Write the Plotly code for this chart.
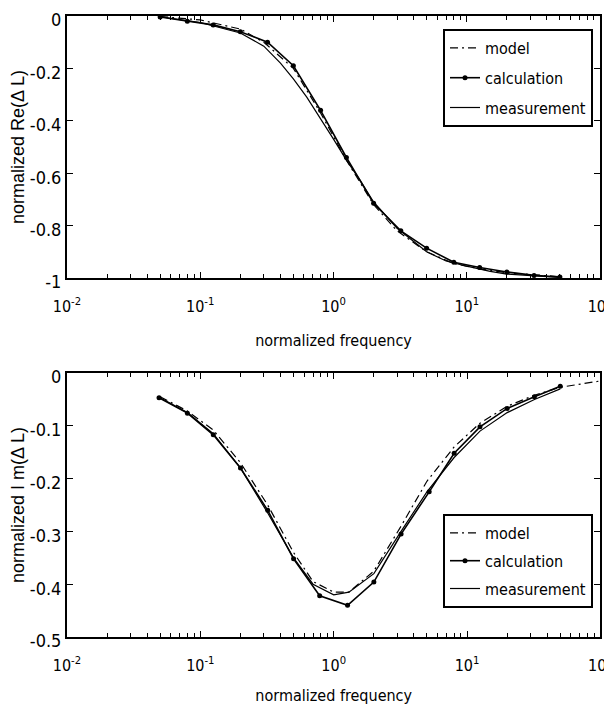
import plotly.graph_objects as go

# ---------------- data ----------------
# top panel: normalized Re(ΔL)
re_model_f = [0.05, 0.1, 0.2, 0.3, 0.5, 0.8, 1.0, 1.25, 2, 3, 5, 8, 12.5, 20, 50]
re_model_v = [-0.002, -0.015, -0.05, -0.1, -0.2, -0.37, -0.46, -0.55, -0.72, -0.82, -0.9, -0.945, -0.965, -0.98, -0.995]

re_calc_f = [0.05, 0.08, 0.125, 0.2, 0.32, 0.5, 0.8, 1.25, 2, 3.2, 5, 8, 12.5, 20, 32, 50]
re_calc_v = [-0.004, -0.02, -0.034, -0.06, -0.10, -0.19, -0.36, -0.54, -0.715, -0.82, -0.886, -0.94, -0.96, -0.977, -0.99, -0.996]

re_meas_f = [0.05, 0.1, 0.2, 0.3, 0.4, 0.5, 0.63, 0.8, 1.0, 1.25, 1.6, 2, 3, 5, 7, 10, 15, 20, 50]
re_meas_v = [-0.003, -0.025, -0.065, -0.115, -0.18, -0.24, -0.31, -0.39, -0.47, -0.55, -0.63, -0.71, -0.81, -0.9, -0.935, -0.955, -0.975, -0.985, -0.998]

# bottom panel: normalized Im(ΔL)
im_model_f = [0.05, 0.08, 0.125, 0.2, 0.32, 0.5, 0.7, 1.0, 1.3, 2, 3.2, 5, 8, 12.5, 20, 32, 50, 100]
im_model_v = [-0.045, -0.072, -0.108, -0.17, -0.25, -0.34, -0.395, -0.415, -0.415, -0.375, -0.29, -0.205, -0.14, -0.095, -0.063, -0.042, -0.027, -0.015]

im_calc_f = [0.049, 0.08, 0.125, 0.2, 0.32, 0.5, 0.785, 1.27, 2.0, 3.2, 5.2, 8, 12.5, 20, 32, 50]
im_calc_v = [-0.047, -0.076, -0.117, -0.18, -0.26, -0.352, -0.422, -0.44, -0.396, -0.305, -0.225, -0.152, -0.102, -0.067, -0.045, -0.025]

im_meas_f = [0.05, 0.08, 0.125, 0.2, 0.32, 0.5, 0.7, 1.0, 1.3, 2, 3.2, 5, 8, 12.5, 20, 32, 50]
im_meas_v = [-0.047, -0.075, -0.115, -0.18, -0.265, -0.35, -0.40, -0.42, -0.415, -0.38, -0.30, -0.225, -0.16, -0.11, -0.075, -0.05, -0.03]

x_tickvals = [0.01, 0.1, 1, 10, 100]
x_ticktext = ["10<sup>-2</sup>", "10<sup>-1</sup>", "10<sup>0</sup>", "10<sup>1</sup>", "10<sup>2</sup>"]
re_ticks = [0, -0.2, -0.4, -0.6, -0.8, -1]
re_ticktext = ["0", "-0.2", "-0.4", "-0.6", "-0.8", "-1"]
im_ticks = [0, -0.1, -0.2, -0.3, -0.4, -0.5]
im_ticktext = ["0", "-0.1", "-0.2", "-0.3", "-0.4", "-0.5"]

# ---------------- figure ----------------
NARROW = "DejaVu Sans Condensed, Liberation Sans Narrow, Arial Narrow, sans-serif"
REG = "Liberation Sans, Arial, sans-serif"
BLK = "black"
MODEL_DASH = "8px,4px,2px,4px"

minor_vals = [m * 10 ** e for e in range(-2, 2) for m in range(2, 10)]

fig = go.Figure()

def add_panel(xa, ya, legend, mf, mv, cf, cv, sf, sv):
    fig.add_trace(go.Scatter(x=mf, y=mv, mode="lines", name="model",
                             line=dict(color=BLK, width=1.2, dash=MODEL_DASH),
                             xaxis=xa, yaxis=ya, legend=legend, legendgroup=legend + "m"))
    fig.add_trace(go.Scatter(x=cf, y=cv, mode="lines+markers", name="calculation",
                             line=dict(color=BLK, width=1.6),
                             marker=dict(symbol="circle", size=5, color=BLK),
                             xaxis=xa, yaxis=ya, legend=legend, legendgroup=legend + "c"))
    fig.add_trace(go.Scatter(x=sf, y=sv, mode="lines", name="measurement",
                             line=dict(color=BLK, width=1.2),
                             xaxis=xa, yaxis=ya, legend=legend, legendgroup=legend + "s"))

add_panel("x", "y", "legend", re_model_f, re_model_v, re_calc_f, re_calc_v, re_meas_f, re_meas_v)
add_panel("x2", "y2", "legend2", im_model_f, im_model_v, im_calc_f, im_calc_v, im_meas_f, im_meas_v)

xcommon = dict(type="log", range=[-2, 2], tickmode="array", tickvals=x_tickvals,
               ticktext=x_ticktext, ticks="inside", ticklen=6, tickcolor=BLK, tickwidth=1.3,
               showline=True, linecolor=BLK, linewidth=2, mirror="allticks",
               showgrid=False, zeroline=False, ticklabeloverflow="allow", automargin=False,
               tickfont=dict(family=NARROW, size=16, color=BLK), ticklabelstandoff=13,
               minor=dict(tickmode="array", tickvals=minor_vals, ticks="inside",
                          ticklen=4, tickcolor=BLK, tickwidth=1.1, showgrid=False))
ycommon = dict(ticks="inside", ticklen=6, tickcolor=BLK, tickwidth=1.3,
               showline=True, linecolor=BLK, linewidth=2, mirror="allticks",
               showgrid=False, zeroline=False, automargin=False, ticklabeloverflow="allow",
               ticklabelshift=4,
               tickfont=dict(family=NARROW, size=18, color=BLK))

legend_common = dict(xanchor="right", yanchor="top", bgcolor="white", bordercolor=BLK,
                     borderwidth=2, font=dict(family=NARROW, size=16, color=BLK),
                     itemwidth=30)

xtitle_font = dict(family=NARROW, size=16, color=BLK)

fig.update_layout(
    width=612, height=707,
    margin=dict(l=0, r=0, t=0, b=0),
    paper_bgcolor="white", plot_bgcolor="white",
    showlegend=True,
    xaxis=dict(xcommon, domain=[0.0964, 0.9673], anchor="y",
               title=dict(text="normalized frequency", font=xtitle_font, standoff=20)),
    yaxis=dict(ycommon, domain=[0.6181, 0.9887], anchor="x", range=[-1, 0],
               tickmode="array", tickvals=re_ticks, ticktext=re_ticktext,
               title=dict(text="normalized Re(\u0394 L)", font=dict(family=REG, size=18, color=BLK),
                          standoff=6)),
    xaxis2=dict(xcommon, domain=[0.0964, 0.9680], anchor="y2",
                title=dict(text="normalized frequency", font=xtitle_font, standoff=16)),
    yaxis2=dict(ycommon, domain=[0.1103, 0.4837], anchor="x2", range=[-0.5, 0],
                tickmode="array", tickvals=im_ticks, ticktext=im_ticktext,
                title=dict(text="normalized I m(\u0394 L)", font=dict(family=REG, size=18, color=BLK),
                           standoff=6)),
    legend=dict(legend_common, x=0.9559, y=0.9703, tracegroupgap=6),
    legend2=dict(legend_common, x=0.9559, y=0.2843, tracegroupgap=4),
)

fig.write_html("out.html")
